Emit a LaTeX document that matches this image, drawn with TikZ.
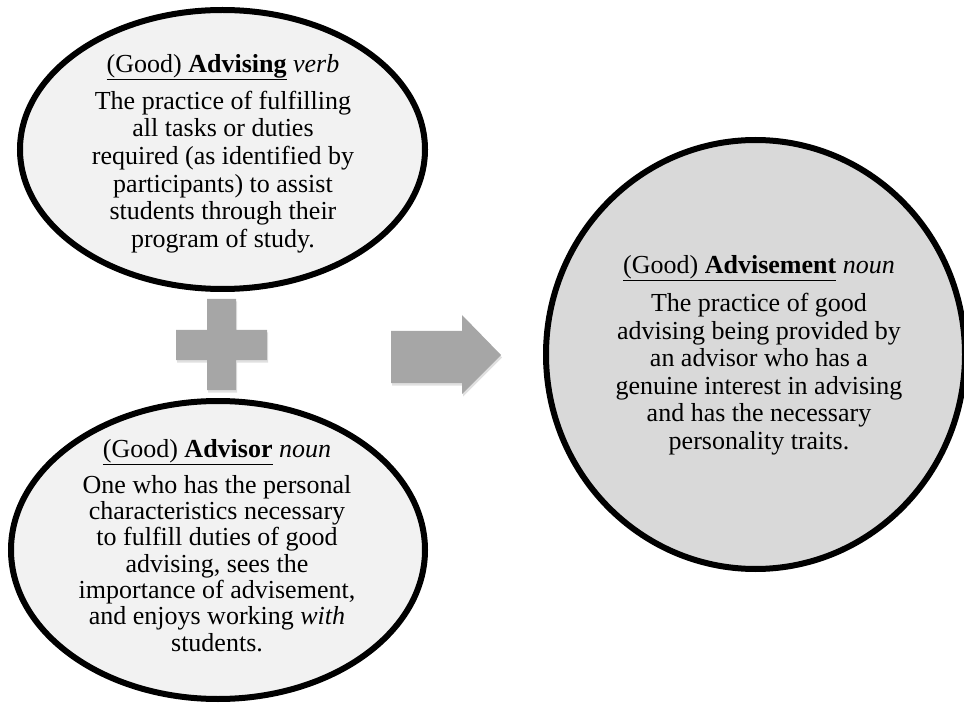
\documentclass[tikz,border=0pt]{standalone}
\usepackage{fontspec}
\setmainfont{Liberation Serif}
\usetikzlibrary{shapes.geometric}
\usetikzlibrary{shadows}
\tikzset{soft/.style={drop shadow={shadow xshift=1pt,shadow yshift=-2.5pt,fill=black,opacity=0.12}}}
\tikzset{bubble/.style={ellipse,draw=black,line width=6pt,fill=black!5,inner sep=0pt,soft}}
\tikzset{txt/.style={align=center,inner sep=0pt,anchor=north,font=\fontsize{26}{27.6}\selectfont}}
\tikzset{sign/.style={fill=black!35,soft}}

\begin{document}
\begin{tikzpicture}[x=1pt,y=-1pt]
        \useasboundingbox (0,0) rectangle (964,703);
        % the three terms
        \node[bubble,minimum width=405pt,minimum height=279pt] (advising) at (222.5,149.5) {};
        \node[bubble,minimum width=414pt,minimum height=298pt] (advisor) at (218,550) {};
        \node[bubble,fill=black!15,minimum width=419pt,minimum height=429pt] (advisement) at (755.5,354.5) {};
        % plus and arrow
        \fill[sign] (207,299) -- (236,299) -- (236,330) -- (267,330) -- (267,360) -- (236,360)
          -- (236,390) -- (207,390) -- (207,360) -- (176,360) -- (176,330) -- (207,330) -- cycle;
        \fill[sign] (391,331) -- (462,331) -- (462,315) -- (501,355) -- (462,394) -- (462,383)
          -- (391,383) -- cycle;
        % definitions
        \node[txt] (advisingtxt) at (223,54) {\underline{(Good) \textbf{Advising}} \textit{verb}\\[9.4pt]
          The practice of fulfilling\\ all tasks or duties\\ required (as identified by\\
          participants) to assist\\ students through their\\ program of study.};
        \node[txt,font=\fontsize{26}{26.3}\selectfont] (advisortxt) at (217,439) {\underline{(Good) \textbf{Advisor}} \textit{noun}\\[9.7pt]
          One who has the personal\\ characteristics necessary\\ to fulfill duties of good\\
          advising, sees the\\ importance of advisement,\\ and enjoys working \textit{with}\\ students.};
        \node[txt,font=\fontsize{26}{27.5}\selectfont] (advisementtxt) at (759,255) {\underline{(Good) \textbf{Advisement}} \textit{noun}\\[11pt]
          The practice of good\\ advising being provided by\\ an advisor who has a\\
          genuine interest in advising\\ and has the necessary\\ personality traits.};
      \end{tikzpicture}
\end{document}
